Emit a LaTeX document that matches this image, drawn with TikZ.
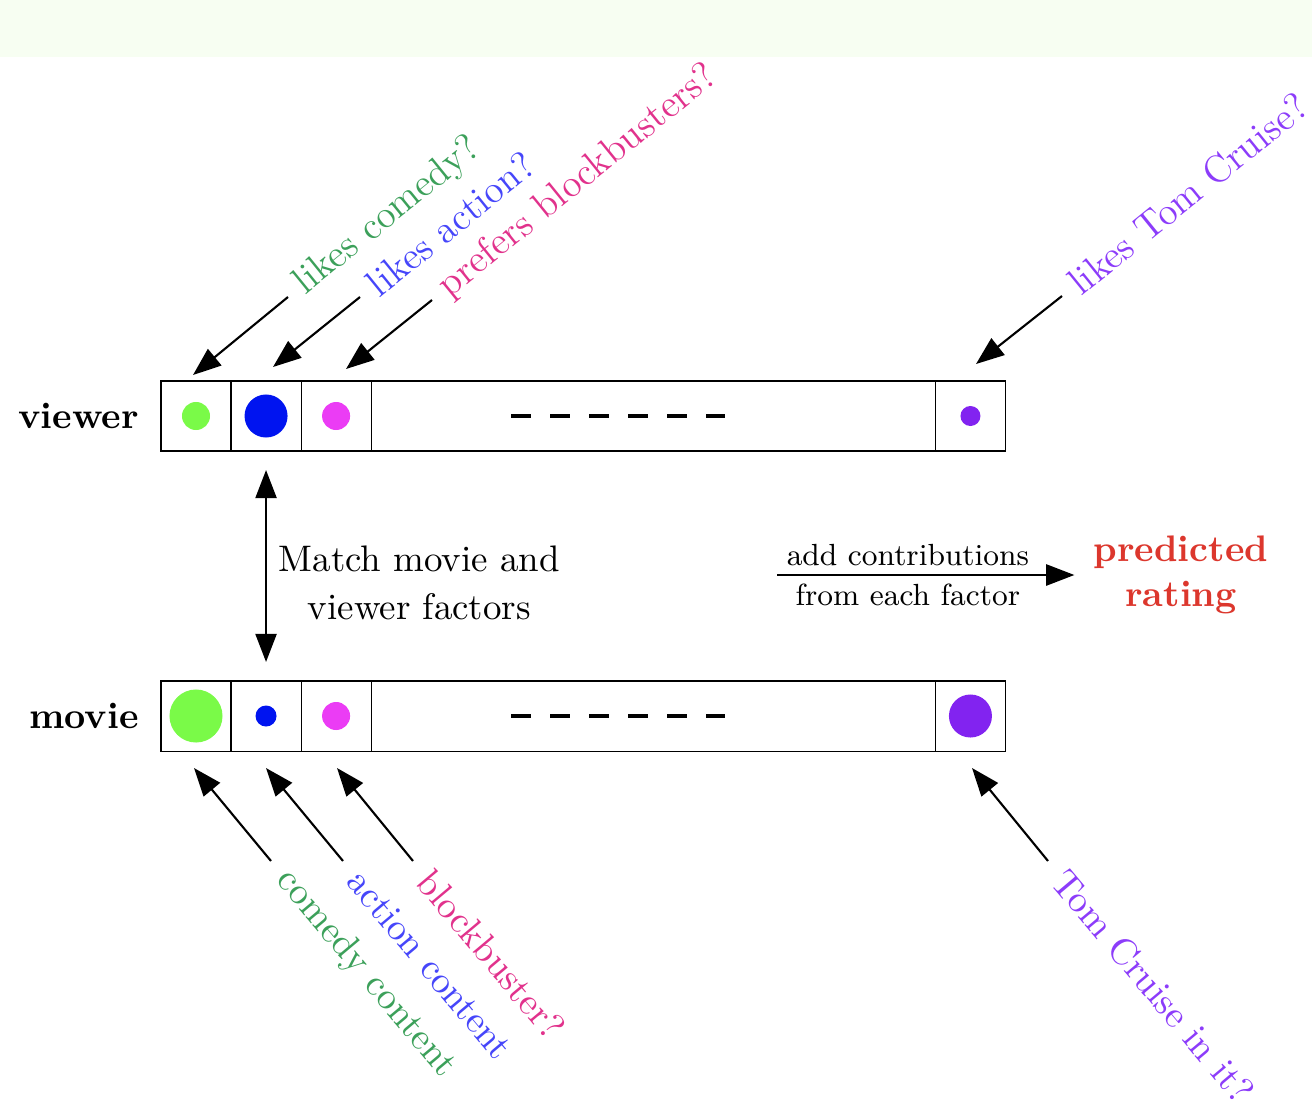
\documentclass[tikz,border=0pt]{standalone}
\usepackage{tikz}
\usetikzlibrary{arrows.meta,positioning}

\definecolor{bandgreen}{RGB}{247,254,242}
\definecolor{dgreen}{RGB}{122,250,72}
\definecolor{dblue}{RGB}{0,20,240}
\definecolor{dmagenta}{RGB}{235,60,245}
\definecolor{dpurple}{RGB}{130,35,240}
\definecolor{tgreen}{RGB}{60,160,90}
\definecolor{tblue}{RGB}{70,70,250}
\definecolor{tpink}{RGB}{225,50,140}
\definecolor{tpurple}{RGB}{140,60,250}
\definecolor{predred}{RGB}{220,55,45}

\tikzset{
  cell/.style={draw, line width=0.3pt, minimum width=0.7cm, minimum height=0.7cm, inner sep=0pt, outer sep=0pt},
  dot/.style={circle, inner sep=0pt},
  rowlab/.style={font=\fontsize{10.5}{12.8}\selectfont\bfseries},
  toplab/.style={rotate=39, anchor=west, inner xsep=4pt, inner ysep=0pt, font=\fontsize{11}{13}\selectfont},
  botlab/.style={rotate=-50, anchor=west, inner xsep=5pt, inner ysep=0pt, font=\fontsize{10.7}{13}\selectfont},
  pointer/.style={->, line width=0.6pt},
  dashline/.style={line width=1.2pt, dash pattern=on 0.2cm off 0.19cm},
}

\begin{document}
\begin{tikzpicture}[x=0.01cm, y=0.01cm, >={Triangle[length=8pt,width=6pt]}, node distance=0pt,
    font=\fontsize{10.5}{12.8}\selectfont]
      \useasboundingbox (0,0) rectangle (1312,-1106);
      \fill[bandgreen] (0,0) rectangle (1312,-57);

      % viewer factors
      \node[cell] (v1) at (196,-416) {};
      \node[cell] (v2) [right=of v1] {};
      \node[cell] (v3) [right=of v2] {};
      \node[cell, minimum width=5.64cm] (v4) [right=of v3] {};
      \node[cell] (v5) [right=of v4] {};
      \node[rowlab] (vlab) [left=0.1cm of v1] {viewer};

      % movie factors
      \node[cell] (m1) at (196,-716) {};
      \node[cell] (m2) [right=of m1] {};
      \node[cell] (m3) [right=of m2] {};
      \node[cell, minimum width=5.64cm] (m4) [right=of m3] {};
      \node[cell] (m5) [right=of m4] {};
      \node[rowlab] (mlab) [left=0.1cm of m1] {movie};

      % factor strengths
      \node[dot, fill=dgreen, minimum size=0.28cm] (vd1) at (v1) {};
      \node[dot, fill=dblue, minimum size=0.43cm] (vd2) at (v2) {};
      \node[dot, fill=dmagenta, minimum size=0.28cm] (vd3) at (v3) {};
      \node[dot, fill=dpurple, minimum size=0.2cm] (vd5) at (v5) {};
      \node[dot, fill=dgreen, minimum size=0.53cm] (md1) at (m1) {};
      \node[dot, fill=dblue, minimum size=0.21cm] (md2) at (m2) {};
      \node[dot, fill=dmagenta, minimum size=0.28cm] (md3) at (m3) {};
      \node[dot, fill=dpurple, minimum size=0.43cm] (md5) at (m5) {};

      \draw[dashline] ([xshift=-1.42cm]v4.center) -- ([xshift=0.72cm]v4.center);
      \draw[dashline] ([xshift=-1.42cm]m4.center) -- ([xshift=0.72cm]m4.center);

      % viewer questions
      \node[toplab, text=tgreen] (lcomedy) at (288,-297) {likes comedy?};
      \node[toplab, text=tblue] (laction) at (360,-297) {likes action?};
      \node[toplab, text=tpink] (lblock) at (432,-300) {prefers blockbusters?};
      \node[toplab, text=tpurple] (ltom) at (1062,-296) {likes Tom Cruise?};
      \coordinate (tcomedy) at (193,-375);
      \coordinate (taction) at (273,-367);
      \coordinate (tblock) at (346,-369);
      \coordinate (ttom) at (976,-364);

      % movie questions
      \node[botlab, text=tgreen] (bcomedy) at (271,-861) {comedy content};
      \node[botlab, text=tblue] (baction) at (343,-861) {action content};
      \node[botlab, text=tpink] (bblock) at (413,-861) {blockbuster?};
      \node[botlab, text=tpurple] (btom) at (1048,-861) {Tom Cruise in it?};
      \coordinate (hcomedy) at (194,-768);
      \coordinate (haction) at (266,-768);
      \coordinate (hblock) at (337,-768);
      \coordinate (htom) at (972,-768);

      \path[pointer]
        (lcomedy.west) edge (tcomedy)
        (laction.west) edge (taction)
        (lblock.west) edge (tblock)
        (ltom.west) edge (ttom)
        (bcomedy.west) edge (hcomedy)
        (baction.west) edge (haction)
        (bblock.west) edge (hblock)
        (btom.west) edge (htom);

      % matching and prediction
      \draw[<->, line width=0.6pt, shorten <=0.19cm, shorten >=0.19cm] (v2) -- (m2)
        node[pos=0.574, right, align=center] {Match movie and\\[1pt]viewer factors};

      \node[font=\fontsize{10.5}{12.8}\selectfont\bfseries, text=predred, align=center] (pred) at (1181,-575) {predicted\\rating};
      \coordinate (sumstart) at (777,-575);
      \draw[pointer, shorten >=2pt] (sumstart) -- (pred)
        node[pos=0.43, font=\fontsize{8.7}{11.2}\selectfont, align=center] {add contributions\\from each factor};
\end{tikzpicture}
\end{document}
